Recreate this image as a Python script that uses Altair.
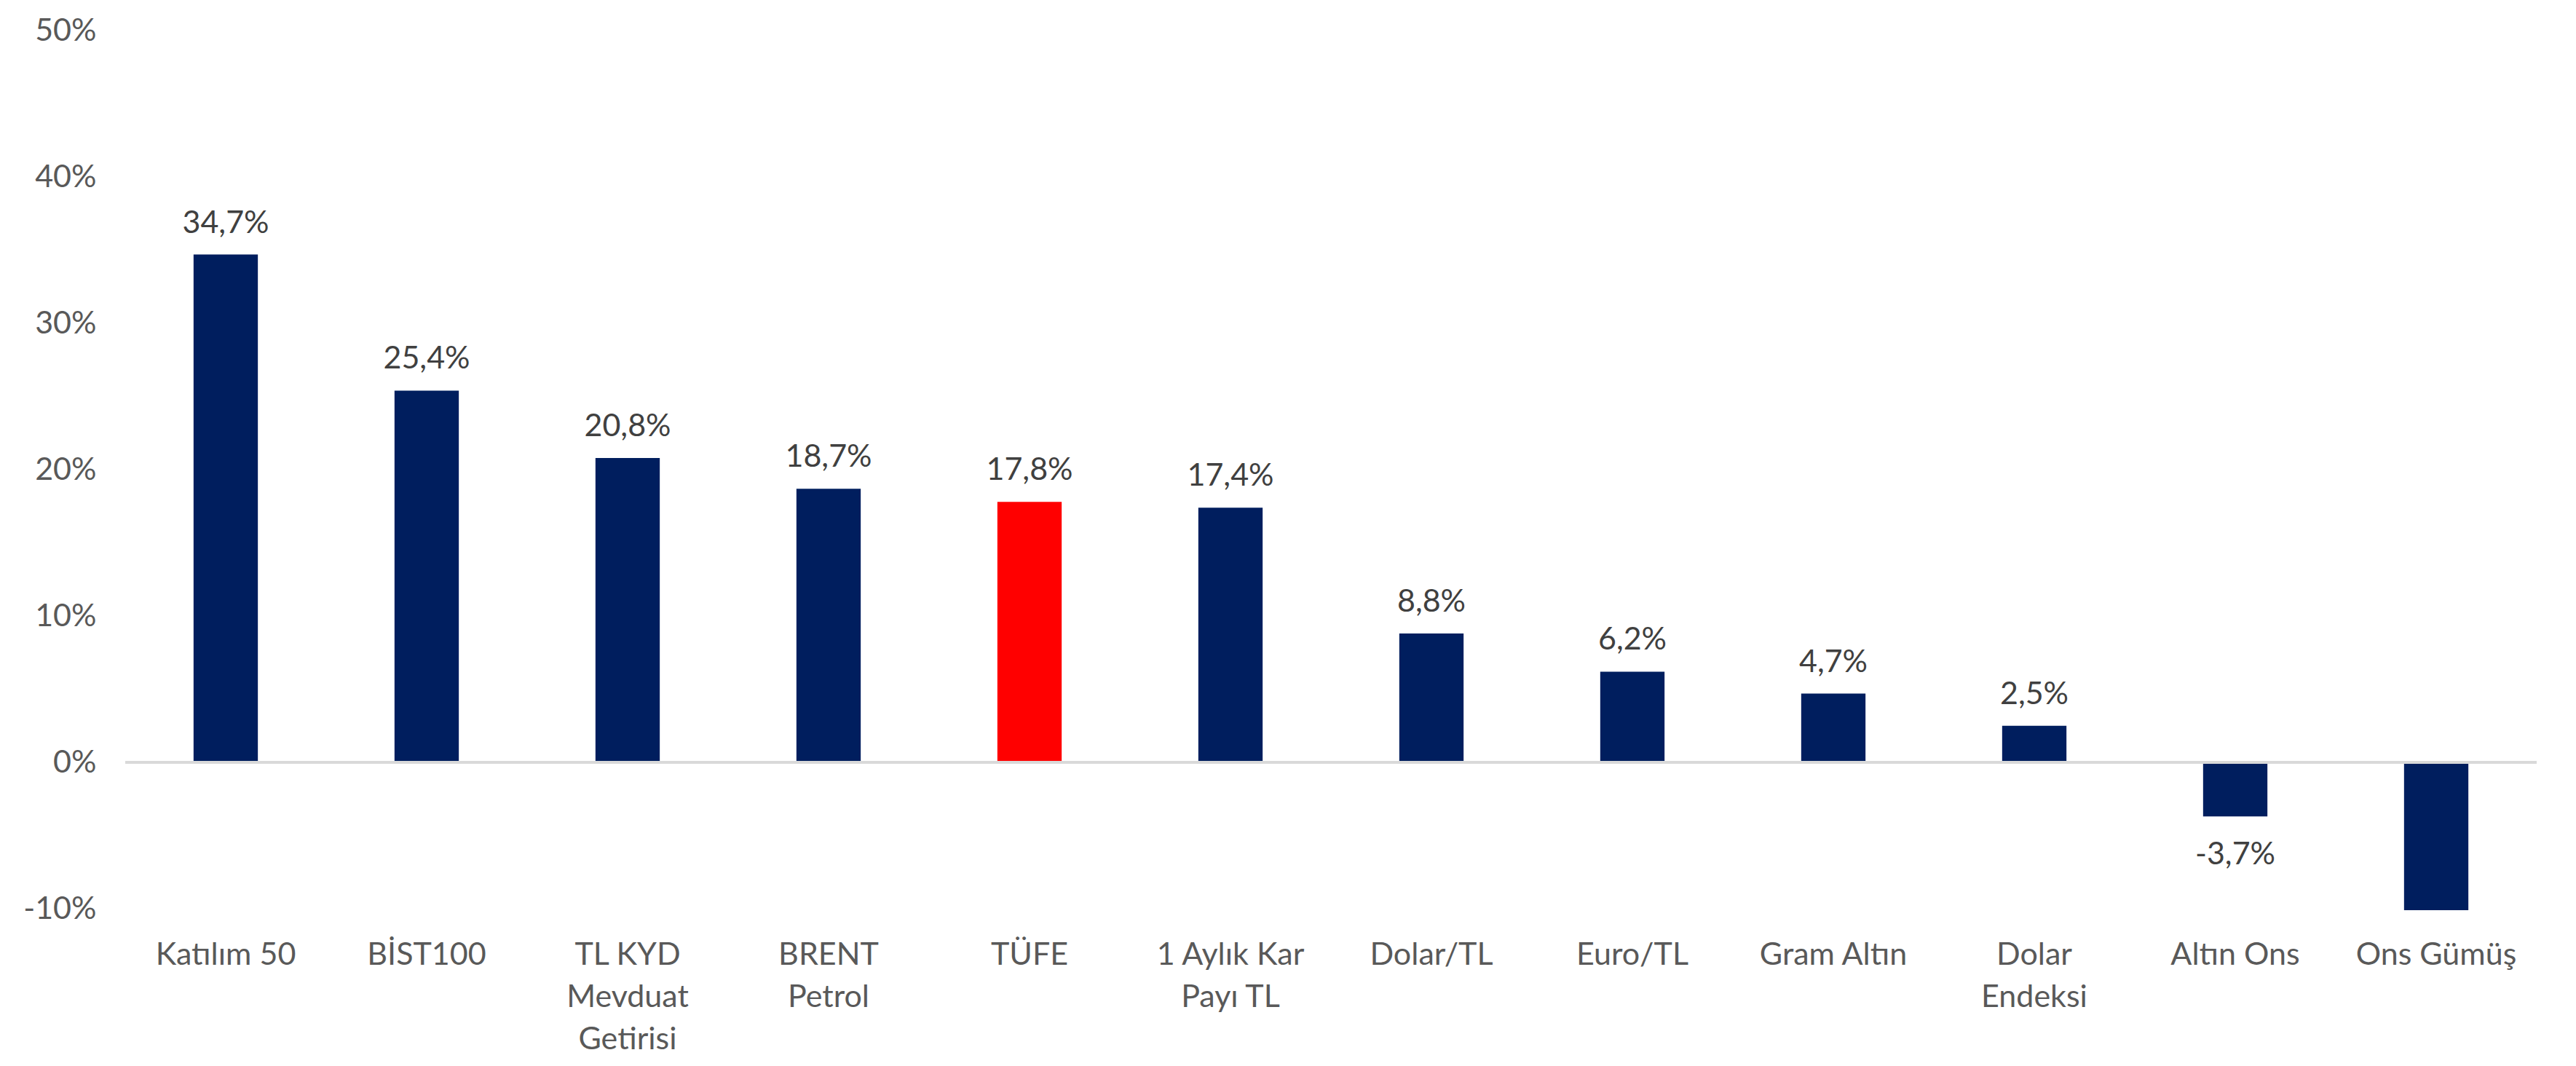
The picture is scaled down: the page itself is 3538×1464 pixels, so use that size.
import altair as alt
import pandas as pd

categories = ["Katılım 50", "BİST100", "TL KYD Mevduat Getirisi", "BRENT Petrol", "TÜFE",
              "1 Aylık Kar Payı TL", "Dolar/TL", "Euro/TL", "Gram Altın", "Dolar Endeksi",
              "Altın Ons", "Ons Gümüş"]
tick_labels = ["Katılım 50", "BİST100", "TL KYD\nMevduat\nGetirisi", "BRENT\nPetrol", "TÜFE",
               "1 Aylık Kar\nPayı TL", "Dolar/TL", "Euro/TL", "Gram Altın", "Dolar\nEndeksi",
               "Altın Ons", "Ons Gümüş"]
values = [34.7, 25.4, 20.8, 18.7, 17.8, 17.4, 8.8, 6.2, 4.7, 2.5, -3.7, -10.1]
show_value_label = [True] * 11 + [False]
y_ticks = [-10, 0, 10, 20, 30, 40, 50]

df = pd.DataFrame({
    "category": categories,
    "tick": tick_labels,
    "value": values,
    "text": [(f"{v:.1f}".replace(".", ",") + "%") if s else "" for v, s in zip(values, show_value_label)],
})

FONT = "Lato"
NAVY = "#001E5E"
RED = "#FF0000"

x = alt.X("tick:N", sort=tick_labels, title=None,
          scale=alt.Scale(paddingInner=0.68, paddingOuter=0.34),
          axis=alt.Axis(labelAngle=0, domain=False, ticks=False, labelPadding=42,
                        labelExpr="split(datum.label, '\\n')", labelLineHeight=58,
                        labelFontSize=43, labelFont=FONT, labelColor="#595959",
                        labelLimit=400))
y = alt.Y("value:Q", title=None,
          scale=alt.Scale(domain=[-10, 50], nice=False),
          axis=alt.Axis(values=y_ticks, grid=False, domain=False, ticks=False,
                        labelPadding=40, labelFontSize=43, labelFont=FONT,
                        labelColor="#595959", labelExpr="datum.value + '%'"))

base = alt.Chart(df)

bars = base.mark_bar().encode(
    x=x, y=y,
    color=alt.condition(alt.datum.category == "TÜFE", alt.value(RED), alt.value(NAVY)),
)

zero = base.mark_rule(color="#D9D9D9", strokeWidth=3).encode(
    y=alt.datum(0)
)

pos_text = base.transform_filter("datum.value >= 0").mark_text(
    baseline="alphabetic", dy=-30, fontSize=43, font=FONT, color="#404040"
).encode(x=x, y=y, text="text:N")

neg_text = base.transform_filter("datum.value < 0").mark_text(
    baseline="alphabetic", dy=66, fontSize=43, font=FONT, color="#404040"
).encode(x=x, y=y, text="text:N")

chart = alt.layer(bars, zero, pos_text, neg_text).properties(
    width=3312, height=1206,
    autosize=alt.AutoSizeParams(type="none"),
    padding={"left": 164, "top": 34, "right": 40, "bottom": 210},
).configure(background="white").configure_view(stroke=None)

chart.save("out.html", embed_options={"renderer": "svg", "actions": False})
